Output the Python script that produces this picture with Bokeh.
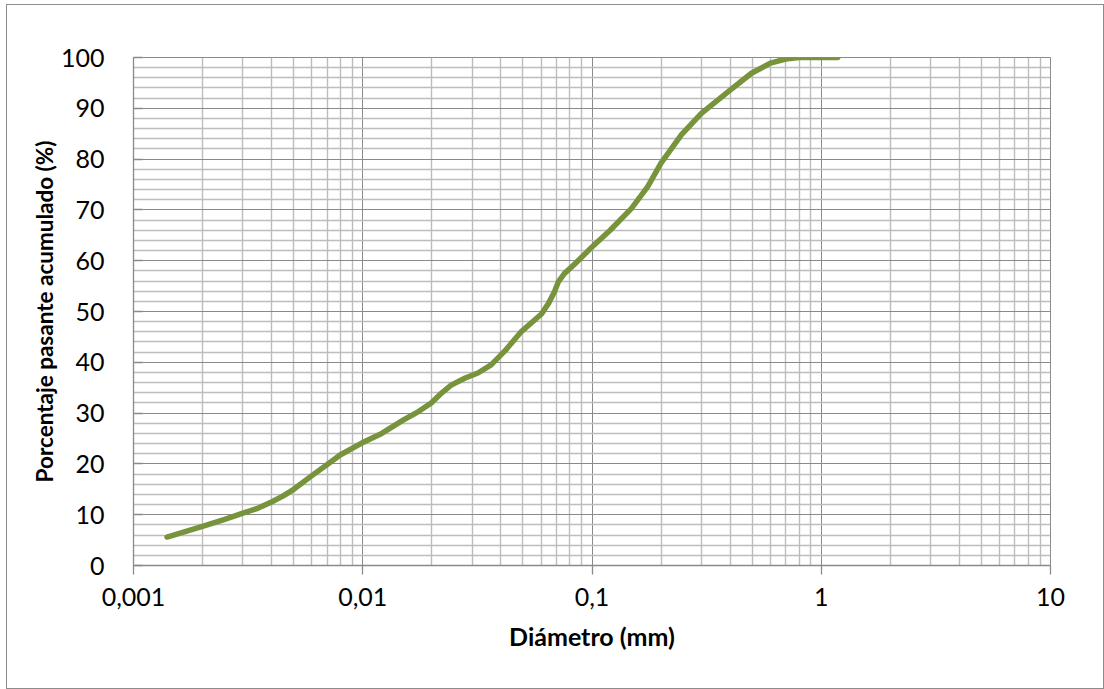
from bokeh.plotting import figure
from bokeh.models import FixedTicker, CustomJSTickFormatter, Range1d
from bokeh.embed import file_html
from bokeh.resources import INLINE

# Data (grain-size distribution curve)
diametro_mm = [0.0014, 0.002, 0.0025, 0.003, 0.0035, 0.004, 0.0045, 0.005, 0.006, 0.007,
               0.008, 0.0099, 0.0121, 0.015, 0.0175, 0.0199, 0.022, 0.0243, 0.028, 0.0318,
               0.0363, 0.042, 0.0493, 0.0602, 0.0646, 0.0686, 0.0714, 0.0759, 0.0839, 0.1,
               0.12, 0.1487, 0.175, 0.2, 0.2457, 0.3, 0.393, 0.496, 0.6, 0.7,
               0.8, 1.0, 1.18]
pasante_pct = [5.6, 7.7, 9.1, 10.3, 11.3, 12.5, 13.7, 15.0, 17.7, 19.9,
               21.8, 24.1, 26.0, 28.6, 30.3, 32.0, 33.9, 35.5, 36.9, 37.9,
               39.5, 42.4, 46.1, 49.5, 51.6, 53.9, 55.9, 57.5, 59.3, 62.7,
               66.0, 70.3, 74.6, 79.2, 84.8, 89.0, 93.3, 96.9, 98.9, 99.7,
               100.0, 100.0, 100.0]

x_major = [0.001, 0.01, 0.1, 1, 10]
x_labels = ["0,001", "0,01", "0,1", "1", "10"]
y_major = [0, 10, 20, 30, 40, 50, 60, 70, 80, 90, 100]

FONT = "Lato"
W, H = 1098, 685

p = figure(width=W, height=H, x_axis_type="log", output_backend="svg",
           toolbar_location=None, x_range=Range1d(0.001, 10), y_range=Range1d(0, 100),
           min_border_left=126, min_border_right=55, min_border_top=52,
           min_border_bottom=125)
p.styles = {"border": "1px solid #8c8c8c", "margin-left": "6px", "margin-top": "4px"}

x_minor = [m * d for d in [0.001, 0.01, 0.1, 1] for m in range(2, 10)]
y_minor = [v for v in range(0, 101, 2) if v % 10 != 0]

p.xaxis.ticker = FixedTicker(ticks=x_major, minor_ticks=x_minor)
p.yaxis.ticker = FixedTicker(ticks=y_major, minor_ticks=y_minor)
p.xgrid.ticker = p.xaxis.ticker
p.ygrid.ticker = p.yaxis.ticker

p.xaxis.formatter = CustomJSTickFormatter(args=dict(lbls=x_labels, majors=x_major), code="""
    for (let i = 0; i < majors.length; i++) {
        if (Math.abs(Math.log10(tick) - Math.log10(majors[i])) < 1e-6) return lbls[i];
    }
    return "";
""")

for g in (p.xgrid, p.ygrid):
    g.grid_line_color = "#8a8a8a"
    g.grid_line_width = 1
    g.minor_grid_line_color = "#bdbdbd"
    g.minor_grid_line_width = 1.4

p.outline_line_color = "#8a8a8a"
p.outline_line_width = 1

for ax in (p.xaxis, p.yaxis):
    ax.axis_line_color = "#8a8a8a"
    ax.axis_line_width = 1.3
    ax.major_tick_line_color = "#8a8a8a"
    ax.major_tick_line_width = 1.3
    ax.minor_tick_line_color = None
    ax.major_label_text_font = FONT
    ax.major_label_text_font_size = "25px"
    ax.major_label_text_color = "#000000"
    ax.axis_label_text_font = FONT
    ax.axis_label_text_font_style = "bold"
    ax.axis_label_text_color = "#000000"

p.xaxis.major_tick_in = 0
p.xaxis.major_tick_out = 9
p.xaxis.major_label_standoff = 13
p.xaxis.axis_label = "Diámetro (mm)"
p.xaxis.axis_label_text_font_size = "25px"
p.xaxis.axis_label_standoff = 12

p.yaxis.major_tick_in = 9
p.yaxis.major_tick_out = 0
p.yaxis.major_label_standoff = 25
p.yaxis.axis_label = "Porcentaje pasante acumulado (%)"
p.yaxis.axis_label_text_font_size = "22.5px"
p.yaxis.axis_label_standoff = 0

p.line(diametro_mm, pasante_pct, line_color="#77933C", line_width=5.5,
       line_cap="round", line_join="round")

open("out.html", "w").write(file_html(p, INLINE))
